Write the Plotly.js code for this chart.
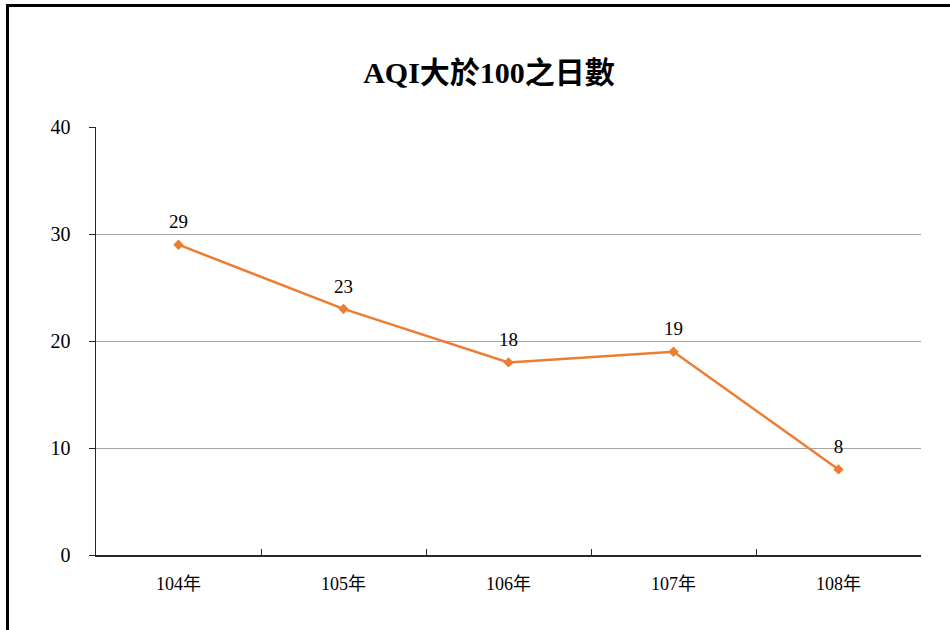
<!DOCTYPE html>
<html>
<head>
<meta charset="utf-8">
<script src="https://cdn.plot.ly/plotly-3.0.1.min.js"></script>
<style>
  html, body { margin: 0; padding: 0; background: #fff; overflow: hidden; }
  #wrap { position: relative; width: 950px; height: 630px; }
  #chart { position: absolute; left: 0; top: 0; width: 950px; height: 630px; }
  #frame { position: absolute; left: 6px; top: 4px; width: 960px; height: 660px;
           border-left: 3px solid #000; border-top: 3px solid #000; pointer-events: none; }
</style>
</head>
<body>
<div id="wrap">
  <div id="chart"></div>
  <div id="frame"></div>
</div>
<script>
const categories = ["104年", "105年", "106年", "107年", "108年"];
const days = [29, 23, 18, 19, 8];
const yTicks = [0, 10, 20, 30, 40];
const titleText = "AQI大於100之日數";

const serif = "Liberation Serif, Noto Sans CJK TC, serif";

const lineTrace = {
  type: "scatter",
  mode: "lines+markers",
  x: categories,
  y: days,
  line: { color: "#ED7D31", width: 2.5 },
  marker: { symbol: "diamond", size: 8, color: "#ED7D31" },
  cliponaxis: false,
  hoverinfo: "skip"
};

const labelTrace = {
  type: "scatter",
  mode: "markers+text",
  x: categories,
  y: days,
  text: days.map(String),
  textposition: "top center",
  textfont: { family: serif, size: 19, color: "#000" },
  marker: { size: 17, opacity: 0 },
  cliponaxis: false,
  hoverinfo: "skip"
};

const layout = {
  width: 950,
  height: 630,
  margin: { l: 96, r: 29, t: 127, b: 75 },
  paper_bgcolor: "#fff",
  plot_bgcolor: "#fff",
  showlegend: false,
  title: {
    text: "<b>" + titleText + "</b>",
    font: { family: serif, size: 30, color: "#000" },
    x: 489 / 950, xref: "container", xanchor: "center",
    y: 1 - 72 / 630, yref: "container", yanchor: "middle"
  },
  xaxis: {
    type: "category",
    range: [-0.5, categories.length - 0.5],
    showgrid: false,
    showline: true,
    linecolor: "#262626",
    linewidth: 2,
    ticks: "inside",
    tickson: "boundaries",
    ticklen: 6,
    tickcolor: "#262626",
    tickwidth: 1,
    tickfont: { family: serif, size: 18, color: "#000" },
    ticklabelstandoff: 11,
    zeroline: false,
    fixedrange: true
  },
  yaxis: {
    range: [0, 40],
    tickvals: yTicks,
    ticktext: yTicks.map(String),
    showgrid: true,
    gridcolor: "#A6A6A6",
    gridwidth: 1,
    showline: true,
    linecolor: "#262626",
    linewidth: 1.5,
    ticks: "outside",
    ticklen: 6,
    tickcolor: "#262626",
    tickfont: { family: serif, size: 20, color: "#000" },
    ticklabelstandoff: 14,
    zeroline: false,
    fixedrange: true
  }
};

Plotly.newPlot("chart", [lineTrace, labelTrace], layout, { staticPlot: true, displayModeBar: false });
</script>
</body>
</html>
